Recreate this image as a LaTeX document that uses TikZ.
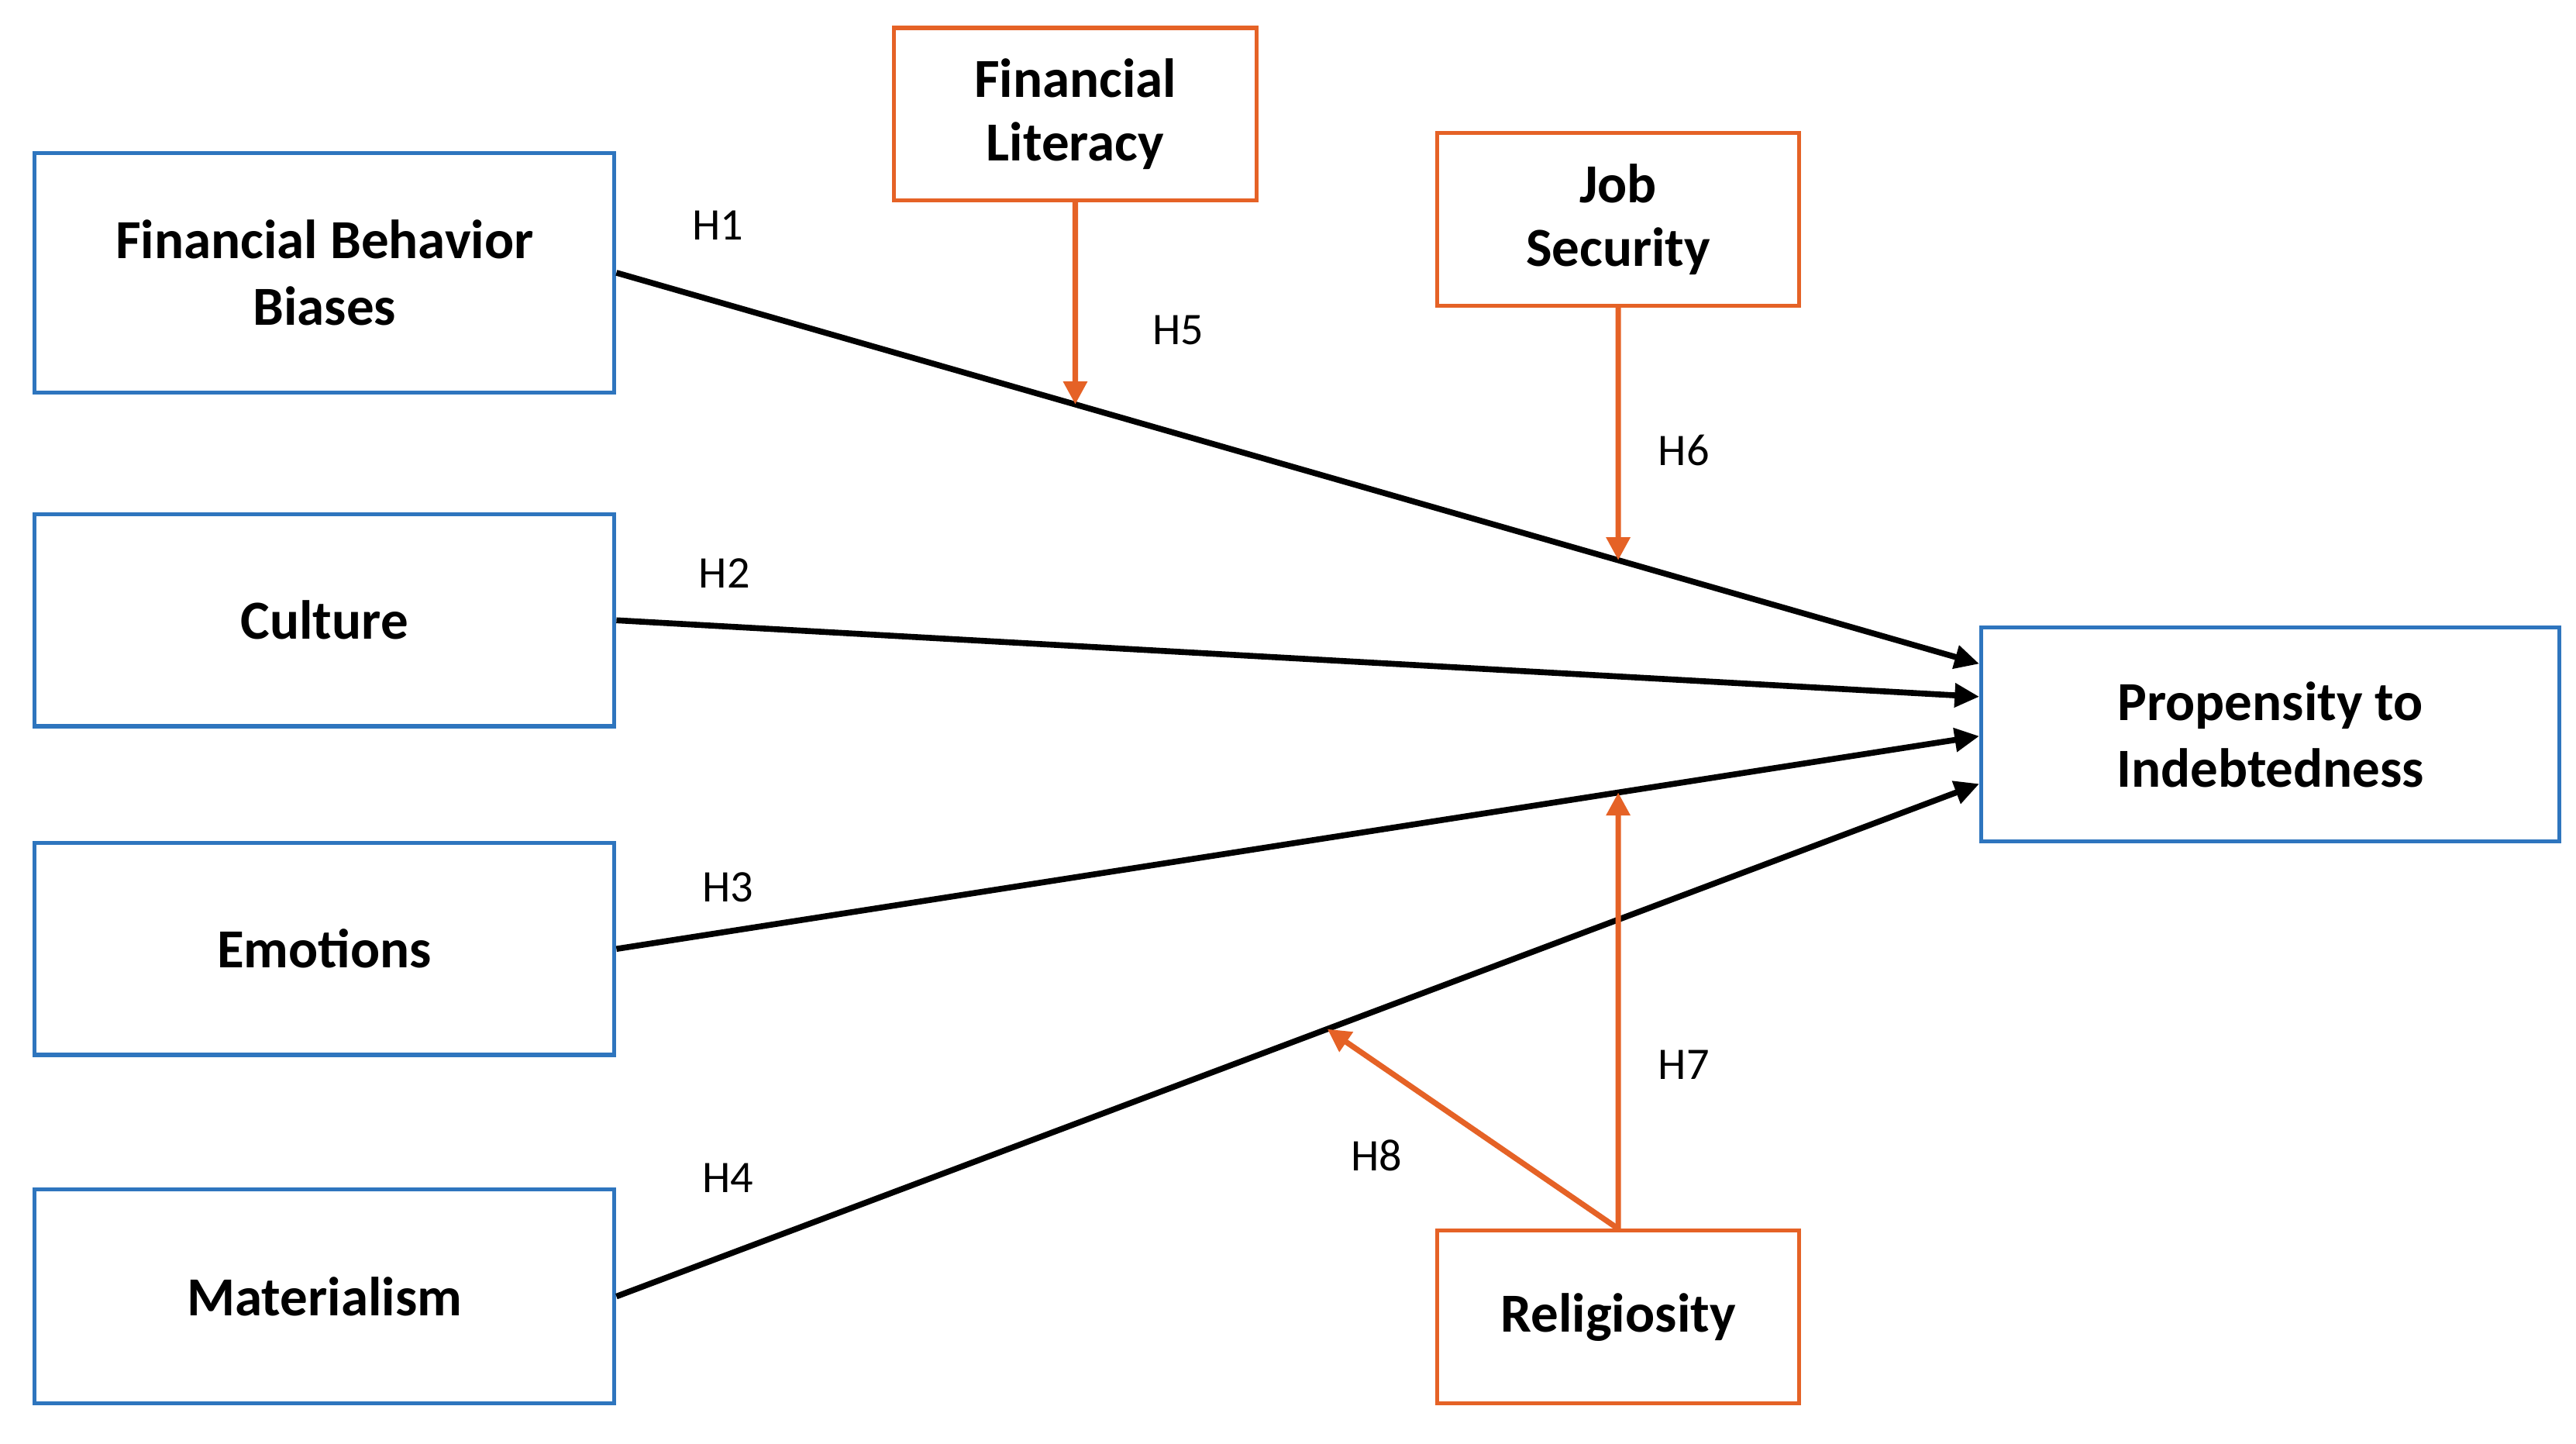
\documentclass[tikz,border=0pt]{standalone}
\usepackage{fontspec}
\setmainfont{Carlito}
\usetikzlibrary{arrows.meta,calc,intersections}
\definecolor{boxblue}{RGB}{46,117,190}
\definecolor{modorange}{RGB}{229,98,38}
\tikzset{
  varbox/.style={draw=boxblue,line width=2.4pt,rectangle,align=center,inner sep=0pt,
    font=\fontsize{33.5}{40.5}\selectfont\bfseries},
  modbox/.style={draw=modorange,line width=2.4pt,rectangle,align=center,inner sep=0pt,
    font=\fontsize{33.5}{40.5}\selectfont\bfseries},
  path/.style={draw=black,line width=3.6pt,-{Triangle[length=15pt,width=14pt]}},
  modpath/.style={draw=modorange,line width=3.4pt,-{Triangle[length=14pt,width=14pt]}},
  hlabel/.style={font=\fontsize{27.5}{32}\selectfont,inner sep=0pt}
}
\begin{document}
\begin{tikzpicture}[x=1pt,y=-1pt]
\useasboundingbox (0,0) rectangle (1568,878.4);
% independent variables
\node[varbox,minimum width=353pt,minimum height=146pt] (fbb) at (197.5,166) {Financial Behavior\\Biases};
\node[varbox,minimum width=353pt,minimum height=129pt] (cul) at (197.5,377.5) {Culture};
\node[varbox,minimum width=353pt,minimum height=129pt] (emo) at (197.5,577.5) {Emotions};
\node[varbox,minimum width=353pt,minimum height=130pt] (mat) at (197.5,789) {Materialism};
% dependent
\node[varbox,minimum width=352pt,minimum height=130pt] (pro) at (1382,447) {Propensity to\\Indebtedness};
% moderators
\node[modbox,minimum width=221pt,minimum height=105pt] (fl) at (654.5,69.5) {\raisebox{-2pt}{Financial}\\Literacy};
\node[modbox,minimum width=220pt,minimum height=105pt] (js) at (985,133.5) {\raisebox{-2pt}{Job}\\Security};
\node[modbox,minimum width=220pt,minimum height=105pt] (rel) at (985,801.5) {\raisebox{-2pt}{Religiosity}};
% targets on propensity
\coordinate (t1) at ([yshift=43pt]pro.west);
\coordinate (t2) at ([yshift=23pt]pro.west);
\coordinate (t3) at ([yshift=-1pt]pro.west);
\coordinate (t4) at ([yshift=-30pt]pro.west);
% main paths
\draw[path,name path=h1] (fbb.east) -- (t1);
\draw[path,name path=h2] (cul.east) -- (t2);
\draw[path,name path=h3] (emo.east) -- (t3);
\draw[path,name path=h4] (mat.east) -- (t4) coordinate[pos=0.5216] (m8);
% moderation arrows
\path[name path=v5] (fl.south) -- ++(0,400);
\path[name path=v6] (js.south) -- ++(0,400);
\path[name path=v7] (rel.north) -- ++(0,-500);
\path[name intersections={of=h1 and v5,by=m5}];
\path[name intersections={of=h1 and v6,by=m6}];
\path[name intersections={of=h3 and v7,by=m7}];
\draw[modpath] (fl.south) -- (m5);
\draw[modpath] (js.south) -- (m6);
\draw[modpath] (rel.north) -- (m7);
\draw[modpath] (rel.north) -- (m8);
% labels
\node[hlabel] (l1) at (437,137) {H1};
\node[hlabel] (l2) at (441,349) {H2};
\node[hlabel] (l3) at (443,540) {H3};
\node[hlabel] (l4) at (443,717) {H4};
\node[hlabel] (l5) at (717,201) {H5};
\node[hlabel] (l6) at (1025,274) {H6};
\node[hlabel] (l7) at (1025,648) {H7};
\node[hlabel] (l8) at (838,703) {H8};
\end{tikzpicture}
\end{document}
